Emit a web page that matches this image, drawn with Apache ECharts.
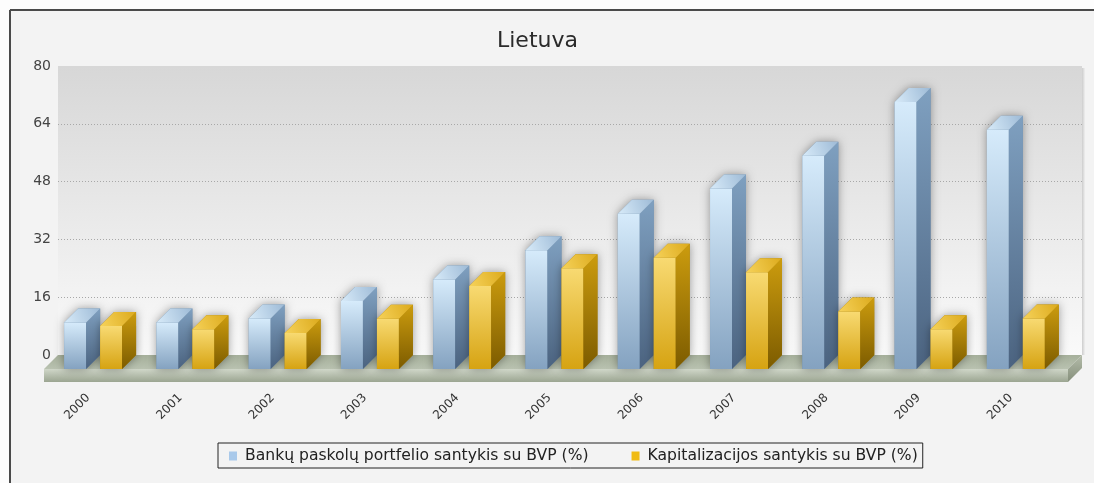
<!DOCTYPE html>
<html>
<head>
<meta charset="utf-8">
<title>Lietuva</title>
<script src="https://cdn.jsdelivr.net/npm/echarts@6/dist/echarts.min.js"></script>
<style>
  html, body { margin: 0; padding: 0; background: #fdfdfd; }
  #chart { width: 1094px; height: 483px; }
</style>
</head>
<body>
<div id="chart"></div>
<script>
// Data
const years = ['2000', '2001', '2002', '2003', '2004', '2005', '2006', '2007', '2008', '2009', '2010'];
const loanRatio = [12.9, 12.9, 14.0, 18.8, 24.8, 32.9, 43.0, 50.0, 59.0, 73.9, 66.2];
const capRatio = [11.9, 11.0, 10.0, 13.9, 23.0, 27.9, 30.8, 26.8, 15.9, 11.0, 14.0];
const seriesNames = ['Bankų paskolų portfelio santykis su BVP (%)', 'Kapitalizacijos santykis su BVP (%)'];
const yMin = 0, yMax = 80, yStep = 16;

// Layout
const FONT = 'DejaVu Sans';
const DEPTH = 14;          // 3D depth offset (px, to the upper right)
const FLOOR_THICK = 13;    // thickness of the floor slab front face
const wall = { left: 58, top: 66, width: 1024, height: 289 };
const front = { left: 42, top: wall.top + DEPTH, width: 1015, height: wall.height };

const LG = echarts.graphic.LinearGradient;

const palettes = [
  {
    legend: '#a9c9ea',
    front: new LG(0, 0, 0, 1, [{ offset: 0, color: '#d6ebfb' }, { offset: 1, color: '#84a2c0' }]),
    side: new LG(0, 0, 0, 1, [{ offset: 0, color: '#7fa0c0' }, { offset: 1, color: '#4b6380' }]),
    top: new LG(0, 1, 1, 0, [{ offset: 0, color: '#d8ebf9' }, { offset: 1, color: '#9dbad6' }]),
    shadow: '#6f8daa'
  },
  {
    legend: '#f0bb14',
    front: new LG(0, 0, 0, 1, [{ offset: 0, color: '#f8da72' }, { offset: 1, color: '#d6a312' }]),
    side: new LG(0, 0, 0, 1, [{ offset: 0, color: '#cc9c0e' }, { offset: 1, color: '#7c5b00' }]),
    top: new LG(0, 1, 1, 0, [{ offset: 0, color: '#f6d25a' }, { offset: 1, color: '#dcaa1c' }]),
    shadow: '#a07a08'
  }
];

// Position of each series' bar inside the category band, as fractions of band width
const barOffset = [-0.26, 0.13];
const barWidthFrac = 0.238;

function bar3d(k) {
  return function (params, api) {
    const i = api.value(0);
    const v = api.value(1);
    const base = api.coord([i, 0]);
    const top = api.coord([i, v]);
    const band = api.size([1, 0])[0];
    const w = band * barWidthFrac;
    const x0 = base[0] + band * barOffset[k];
    const x1 = x0 + w;
    const yb = base[1];
    const yt = top[1];
    const d = DEPTH;
    const p = palettes[k];
    return {
      type: 'group',
      children: [
        {
          type: 'polygon',
          shape: { points: [[x0, yb], [x0, yt], [x0 + d, yt - d], [x1 + d, yt - d], [x1 + d, yb - d], [x1, yb]] },
          style: { fill: p.shadow, shadowBlur: 10, shadowColor: 'rgba(0,0,0,0.38)' }
        },
        {
          type: 'rect',
          shape: { x: x0, y: yt, width: w, height: yb - yt },
          style: { fill: p.front }
        },
        {
          type: 'polygon',
          shape: { points: [[x1, yt], [x1 + d, yt - d], [x1 + d, yb - d], [x1, yb]] },
          style: { fill: p.side }
        },
        {
          type: 'polygon',
          shape: { points: [[x0, yt], [x0 + d, yt - d], [x1 + d, yt - d], [x1, yt]] },
          style: { fill: p.top }
        }
      ]
    };
  };
}

// Floor slab under the bars, built from the wall grid rectangle
function floorItem(params) {
  const cs = params.coordSys;
  const xl = cs.x, xr = cs.x + cs.width, yb = cs.y + cs.height;
  const d = DEPTH, t = FLOOR_THICK;
  return {
    type: 'group',
    children: [
      {
        type: 'polygon',
        shape: { points: [[xl, yb], [xr, yb], [xr - d, yb + d], [xl - d, yb + d]] },
        style: { fill: new LG(0, 0, 0, 1, [{ offset: 0, color: '#a6b09b' }, { offset: 1, color: '#b9c2b0' }]) }
      },
      {
        type: 'rect',
        shape: { x: xl - d, y: yb + d, width: cs.width, height: t },
        style: { fill: new LG(0, 0, 0, 1, [{ offset: 0, color: '#d0d7c9' }, { offset: 1, color: '#9ba591' }]) }
      },
      {
        type: 'polygon',
        shape: { points: [[xr - d, yb + d], [xr, yb], [xr, yb + t], [xr - d, yb + d + t]] },
        style: { fill: new LG(0, 0, 0, 1, [{ offset: 0, color: '#b4bcaa' }, { offset: 1, color: '#858f7b' }]) }
      }
    ]
  };
}

const chart = echarts.init(document.getElementById('chart'), null, { renderer: 'canvas' });

chart.setOption({
  backgroundColor: '#f3f3f3',
  animation: false,
  textStyle: { fontFamily: FONT },
  title: {
    text: 'Lietuva',
    left: 492,
    top: 25,
    textStyle: { fontFamily: FONT, fontSize: 22, fontWeight: 'normal', color: '#2a2a2a' }
  },
  legend: {
    data: seriesNames,
    left: 218,
    top: 443,
    padding: [5, 5, 4, 11],
    itemGap: 43,
    itemWidth: 8,
    itemHeight: 9,
    icon: 'rect',
    borderColor: '#222',
    borderWidth: 1,
    textStyle: { fontFamily: FONT, fontSize: 15.6, color: '#222', padding: [0, 0, 0, 3] }
  },
  grid: [
    {
      left: wall.left, top: wall.top, width: wall.width, height: wall.height,
      show: true,
      borderWidth: 0,
      backgroundColor: new LG(0, 0, 0, 1, [
        { offset: 0, color: '#d7d7d7' },
        { offset: 0.6, color: '#ececec' },
        { offset: 1, color: '#fafafa' }
      ])
    },
    { left: front.left, top: front.top, width: front.width, height: front.height }
  ],
  xAxis: [
    { type: 'category', gridIndex: 0, data: years, show: false },
    {
      type: 'category', gridIndex: 1, data: years,
      axisLine: { show: false }, axisTick: { show: false },
      axisLabel: { rotate: 45, margin: 27, fontSize: 12, color: '#333', fontFamily: FONT, interval: 0 }
    }
  ],
  yAxis: [
    {
      type: 'value', gridIndex: 0, min: yMin, max: yMax, interval: yStep,
      axisLine: { show: false }, axisTick: { show: false },
      axisLabel: { margin: 7, fontSize: 14, color: '#444', fontFamily: FONT },
      splitLine: { show: true, showMinLine: false, showMaxLine: false, lineStyle: { color: '#a8a8a8', type: [1, 2], width: 1 } }
    },
    { type: 'value', gridIndex: 1, min: yMin, max: yMax, interval: yStep, show: false, splitLine: { show: false } }
  ],
  series: [
    {
      name: 'floor', type: 'custom', xAxisIndex: 0, yAxisIndex: 0,
      renderItem: floorItem, data: [[0, 0]], silent: true, z: 1
    },
    {
      name: seriesNames[0], type: 'custom', xAxisIndex: 1, yAxisIndex: 1,
      itemStyle: { color: palettes[0].legend },
      renderItem: bar3d(0), encode: { x: 0, y: 1 },
      data: loanRatio.map((v, i) => [i, v]), z: 3
    },
    {
      name: seriesNames[1], type: 'custom', xAxisIndex: 1, yAxisIndex: 1,
      itemStyle: { color: palettes[1].legend },
      renderItem: bar3d(1), encode: { x: 0, y: 1 },
      data: capRatio.map((v, i) => [i, v]), z: 3
    }
  ],
  graphic: [
    // white margin and the frame around the panel
    { type: 'rect', shape: { x: 0, y: 0, width: 1094, height: 9 }, style: { fill: '#fdfdfd' }, silent: true },
    { type: 'rect', shape: { x: 0, y: 0, width: 9, height: 483 }, style: { fill: '#fdfdfd' }, silent: true },
    { type: 'line', shape: { x1: 10, y1: 10, x2: 1094, y2: 10 }, style: { stroke: '#4a4a4a', lineWidth: 2 }, silent: true },
    { type: 'line', shape: { x1: 10, y1: 10, x2: 10, y2: 483 }, style: { stroke: '#4a4a4a', lineWidth: 2 }, silent: true },
    // shaded right edge of the back wall
    {
      type: 'rect', z: 0,
      shape: { x: wall.left + wall.width, y: wall.top + 2, width: 3, height: wall.height - 2 },
      style: { fill: new LG(0, 0, 1, 0, [{ offset: 0, color: 'rgba(0,0,0,0.16)' }, { offset: 1, color: 'rgba(0,0,0,0.02)' }]) },
      silent: true
    }
  ]
});
</script>
</body>
</html>
